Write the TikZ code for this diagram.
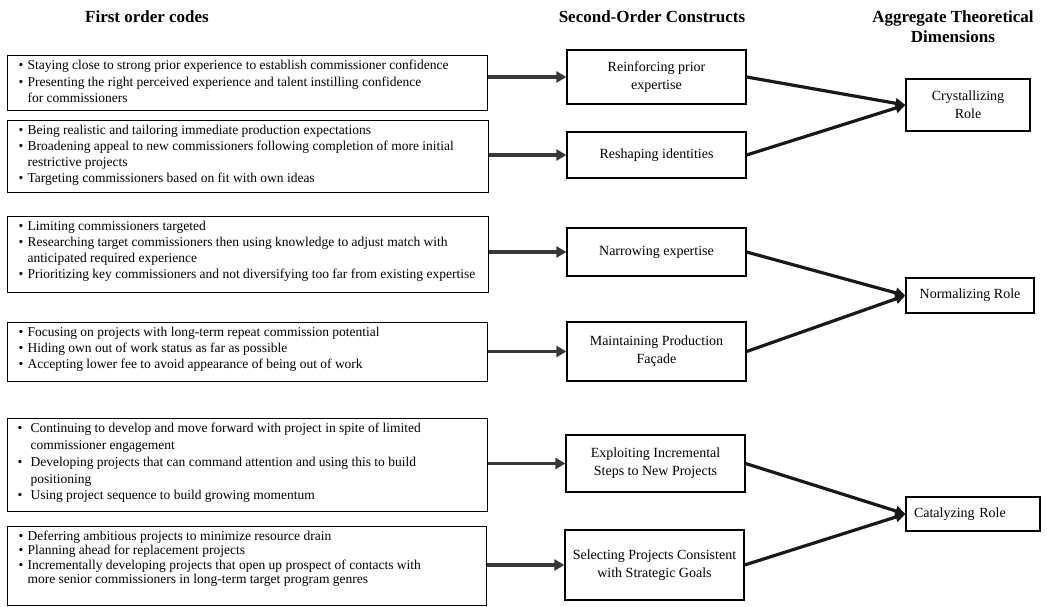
\documentclass[tikz,border=0pt]{standalone}
\usepackage{fontspec}
\setmainfont{Liberation Serif}
\usetikzlibrary{arrows.meta}

% one bulleted line / one continuation line of a code list
\newcommand\cbul[1]{\mbox{\hspace*{11pt}\makebox[9pt][l]{\textbullet}#1}\\}
\newcommand\ccon[1]{\mbox{\hspace*{20pt}#1}\\}
\newcommand\wbul[1]{\mbox{\hspace*{10pt}\makebox[13pt][l]{\textbullet}#1}\\}
\newcommand\wcon[1]{\mbox{\hspace*{23pt}#1}\\}
% fixed-size, top-aligned block of code lines
\newcommand\codetext[3]{\parbox[c][#2][t]{#1}{\raggedright\rule{0pt}{14pt}#3}}

\tikzset{
  code/.style={draw, line width=1.2pt, inner sep=0pt, anchor=north west},
  construct/.style={draw, line width=1.2pt, inner sep=2pt, align=center,
    font=\fontsize{14}{18}\selectfont},
  dimension/.style={draw, line width=1.2pt, inner sep=2pt, align=center,
    font=\fontsize{14}{18}\selectfont},
  header/.style={font=\fontsize{17}{20}\selectfont\bfseries, align=center},
  feed/.style={draw=black!78, line width=3.6pt,
    -{Triangle[length=10pt,width=11pt]}},
  link/.style={draw=black!90, line width=3.2pt,
    -{Triangle[length=10pt,width=10pt]}},
}

\begin{document}
\begin{tikzpicture}[x=1pt, y=-1pt]
\useasboundingbox (0,0) rectangle (1047,606);

% column headings
\node[header] (h1) at (147,17) {First order codes};
\node[header] (h2) at (652,17) {Second-Order Constructs};
\node[header] (h3) at (953,27) {Aggregate Theoretical\\Dimensions};

% first order codes
\node[code, font=\fontsize{13.5}{16.5}\selectfont] (c1) at (7,55)
 {\codetext{480pt}{55pt}{%
  \cbul{Staying close to strong prior experience to establish commissioner confidence}%
  \cbul{Presenting the right perceived experience and talent instilling confidence}%
  \ccon{for commissioners}}};

\node[code, font=\fontsize{13.5}{16}\selectfont] (c2) at (7,120)
 {\codetext{481pt}{72pt}{%
  \cbul{Being realistic and tailoring immediate production expectations}%
  \cbul{Broadening appeal to new commissioners following completion of more initial}%
  \ccon{restrictive projects}%
  \cbul{Targeting commissioners based on fit with own ideas}}};

\node[code, font=\fontsize{13.5}{16}\selectfont] (c3) at (7,216)
 {\codetext{481pt}{76pt}{%
  \cbul{Limiting commissioners targeted}%
  \cbul{Researching target commissioners then using knowledge to adjust match with}%
  \ccon{anticipated required experience}%
  \cbul{Prioritizing key commissioners and not diversifying too far from existing expertise}}};

\node[code, font=\fontsize{13.5}{16}\selectfont] (c4) at (7,322)
 {\codetext{480pt}{59pt}{%
  \cbul{Focusing on projects with long-term repeat commission potential}%
  \cbul{Hiding own out of work status as far as possible}%
  \cbul{Accepting lower fee to avoid appearance of being out of work}}};

\node[code, font=\fontsize{13.5}{16.8}\selectfont] (c5) at (7,418)
 {\codetext{480pt}{93pt}{%
  \wbul{Continuing to develop and move forward with project in spite of limited}%
  \wcon{commissioner engagement}%
  \wbul{Developing projects that can command attention and using this to build}%
  \wcon{positioning}%
  \wbul{Using project sequence to build growing momentum}}};

\node[code, font=\fontsize{13.5}{14.3}\selectfont] (c6) at (7,526)
 {\codetext{479pt}{79pt}{%
  \cbul{Deferring ambitious projects to minimize resource drain}%
  \cbul{Planning ahead for replacement projects}%
  \cbul{Incrementally developing projects that open up prospect of contacts with}%
  \ccon{more senior commissioners in long-term target program genres}}};

% second-order constructs
\node[construct, minimum width=179pt, minimum height=54pt] (m1) at (656.5,77)
  {Reinforcing prior\\expertise};
\node[construct, minimum width=179pt, minimum height=46pt] (m2) at (656.5,155)
  {Reshaping identities};
\node[construct, minimum width=179pt, minimum height=48pt] (m3) at (656.5,252)
  {Narrowing expertise};
\node[construct, minimum width=179pt, minimum height=59pt] (m4) at (656.5,351.5)
  {Maintaining Production\\Façade};
\node[construct, minimum width=179pt, minimum height=57pt] (m5) at (655.5,463.5)
  {Exploiting Incremental\\Steps to New Projects};
\node[construct, minimum width=179pt, minimum height=70pt] (m6) at (654.5,565)
  {Selecting Projects Consistent\\with Strategic Goals};

% aggregate theoretical dimensions
\node[dimension, minimum width=124pt, minimum height=52pt] (r1) at (968,105)
  {Crystallizing\\Role};
\node[dimension, minimum width=128pt, minimum height=35pt] (r2) at (970,295.5)
  {Normalizing Role};
\node[dimension, minimum width=134pt, minimum height=34pt, inner xsep=8pt,
      text width=118pt, align=left] (r3) at (973,514)
  {Catalyzing Role};

% codes feed the constructs
\draw[feed] (c1.east |- m1.west) -- (m1.west);
\draw[feed] (c2.east |- m2.west) -- (m2.west);
\draw[feed] (c3.east |- m3.west) -- (m3.west);
\draw[feed] (c4.east |- m4.west) -- (m4.west);
\draw[feed] (c5.east |- m5.west) -- (m5.west);
\draw[feed] (c6.east |- m6.west) -- (m6.west);

% constructs aggregate into dimensions
\draw[link] (m1.east) -- (r1.west);
\draw[link] (m2.east) -- (r1.west);
\draw[link] (m3.east) -- (r2.west);
\draw[link] (m4.east) -- (r2.west);
\draw[link] (m5.east) -- (r3.west);
\draw[link] (m6.east) -- (r3.west);
\end{tikzpicture}
\end{document}
